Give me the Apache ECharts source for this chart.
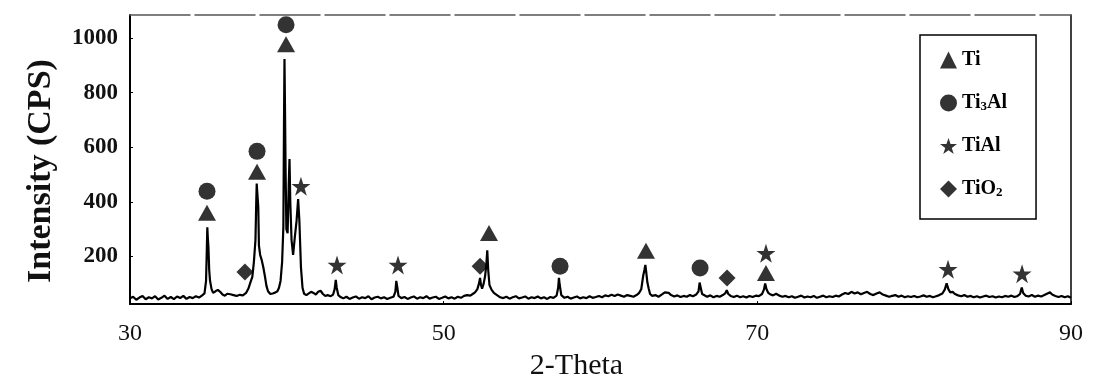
<!DOCTYPE html>
<html>
<head>
<meta charset="utf-8">
<script src="https://cdn.jsdelivr.net/npm/echarts@6/dist/echarts.min.js"></script>
<style>
  html, body { margin: 0; padding: 0; background: #fff; }
  #chart { width: 1097px; height: 386px; }
</style>
</head>
<body>
<div id="chart"></div>
<script>
// ---- Data ----
const twoTheta = [
  30.0,30.2,30.4,30.6,30.8,31.0,31.2,31.4,31.6,31.8,32.0,32.2,32.4,32.6,32.8,33.0,33.2,33.4,33.6,33.8,34.0,34.2,34.4,34.6,
  34.75,34.85,34.9,34.93,34.96,35.0,35.05,35.1,35.2,35.3,35.45,35.6,35.75,35.9,36.05,36.2,36.4,36.6,36.8,37.0,37.2,37.4,
  37.55,37.7,37.8,37.9,38.0,38.05,38.08,38.12,38.18,38.22,38.3,38.4,38.5,38.6,38.7,38.8,38.95,39.1,39.25,39.4,39.5,39.6,
  39.7,39.78,39.82,39.85,39.88,39.92,39.97,40.05,40.12,40.17,40.22,40.3,40.4,40.5,40.62,40.72,40.8,40.9,41.0,41.1,41.25,
  41.4,41.55,41.7,41.85,42.0,42.15,42.3,42.45,42.6,42.8,42.95,43.05,43.12,43.18,43.28,43.45,43.6,43.8,44.0,44.2,44.4,
  44.6,44.8,45.0,45.2,45.4,45.6,45.8,46.0,46.2,46.4,46.6,46.8,46.92,46.98,47.04,47.12,47.3,47.5,47.7,47.9,48.1,48.3,
  48.5,48.7,48.9,49.1,49.3,49.5,49.7,49.9,50.1,50.3,50.5,50.7,50.9,51.1,51.3,51.5,51.7,51.85,52.0,52.15,52.25,52.32,
  52.38,52.45,52.55,52.64,52.72,52.78,52.84,52.92,53.05,53.2,53.4,53.6,53.8,54.0,54.2,54.4,54.6,54.8,55.0,55.2,55.4,
  55.6,55.8,56.0,56.2,56.4,56.6,56.8,57.0,57.2,57.3,57.35,57.4,57.5,57.7,57.9,58.1,58.3,58.5,58.7,58.9,59.1,59.3,59.5,
  59.7,59.9,60.1,60.3,60.5,60.7,60.9,61.1,61.3,61.5,61.7,61.9,62.1,62.3,62.45,62.6,62.72,62.8,62.86,62.92,62.99,63.08,
  63.16,63.3,63.5,63.7,63.9,64.1,64.22,64.35,64.5,64.7,64.9,65.1,65.3,65.5,65.7,65.9,66.1,66.25,66.32,66.38,66.48,66.6,
  66.8,67.0,67.2,67.4,67.6,67.8,67.95,68.05,68.15,68.3,68.5,68.7,68.9,69.1,69.3,69.5,69.7,69.9,70.1,70.3,70.42,70.5,
  70.58,70.7,70.85,71.0,71.2,71.4,71.6,71.8,72.0,72.2,72.4,72.6,72.8,73.0,73.2,73.4,73.6,73.8,74.0,74.2,74.4,74.6,74.8,
  75.0,75.2,75.4,75.6,75.8,76.0,76.2,76.4,76.6,76.8,77.0,77.2,77.4,77.6,77.8,78.0,78.2,78.4,78.6,78.8,79.0,79.2,79.4,
  79.6,79.8,80.0,80.2,80.4,80.6,80.8,81.0,81.2,81.4,81.6,81.8,81.95,82.07,82.18,82.3,82.45,82.6,82.8,83.0,83.2,83.4,
  83.6,83.8,84.0,84.2,84.4,84.6,84.8,85.0,85.2,85.4,85.6,85.8,86.0,86.2,86.4,86.6,86.75,86.86,86.95,87.1,87.3,87.5,
  87.7,87.9,88.1,88.3,88.5,88.66,88.8,89.0,89.2,89.4,89.6,89.8,90.0
];
const intensity = [
  46,52,41,49,55,43,50,46,54,42,48,56,44,51,43,53,47,55,44,51,47,54,49,57,
  64,110,230,307,270,235,150,112,80,66,72,77,70,60,56,63,61,58,55,59,57,66,
  82,108,125,180,260,400,467,430,380,240,205,186,160,128,92,72,62,64,67,72,85,110,
  180,310,700,924,760,520,300,285,460,557,400,260,205,265,330,410,330,160,85,63,58,
  64,70,66,60,70,74,62,55,58,54,60,80,114,85,58,50,46,52,44,49,53,
  45,50,47,54,43,49,52,46,50,44,48,52,70,110,88,55,47,51,44,49,53,45,
  50,47,54,45,49,52,44,48,53,46,50,45,52,48,55,58,56,62,68,80,100,121,
  95,82,100,127,170,222,150,95,78,66,58,50,47,52,45,50,54,46,49,53,45,
  50,47,53,46,50,44,51,48,56,85,121,95,58,48,52,45,49,53,46,50,47,54,48,
  51,55,50,57,54,59,55,60,56,52,58,55,52,58,65,80,128,150,169,140,104,80,
  62,55,58,52,60,68,74,66,58,53,57,51,55,52,58,54,60,72,104,88,62,56,
  52,57,50,55,52,58,64,76,62,55,51,56,50,54,49,55,51,56,54,62,78,101,
  80,66,60,57,63,56,52,55,50,54,48,52,56,49,53,50,55,48,52,56,50,54,51,
  56,53,60,66,62,70,64,68,61,66,70,62,58,64,68,60,56,52,55,58,52,56,50,
  54,51,55,50,53,57,52,55,50,54,58,64,78,101,80,68,70,62,57,54,58,52,
  55,50,54,49,53,56,51,54,49,53,50,55,52,56,51,55,62,86,66,56,53,58,
  52,56,53,58,64,68,60,55,51,55,50,54,48
];

// Phase markers [2-theta, intensity]
const tiMarks   = [[34.91, 360], [38.10, 510], [39.95, 978], [52.89, 286], [62.90, 221], [70.55, 139]];
const ti3alMarks = [[34.91, 439], [38.10, 585], [39.95, 1049], [57.42, 164], [66.35, 157]];
const tialMarks = [[40.90, 457], [43.20, 168], [47.09, 168], [70.55, 211], [82.16, 153], [86.88, 136]];
const tio2Marks = [[37.33, 143], [52.32, 164], [68.07, 121]];

const xTicks = [30, 50, 70, 90];
const yTicks = [200, 400, 600, 800, 1000];
const phaseNames = ['Ti', 'Ti3Al', 'TiAl', 'TiO2'];

// ---- Chart ----
const SERIF = '"Liberation Serif", "DejaVu Serif", serif';
const STAR = 'path://M50,0 L61.8,35.5 L99,35.5 L68.8,57.5 L80.3,93 L50,71 L19.7,93 L31.2,57.5 L1,35.5 L38.2,35.5 Z';

const chart = echarts.init(document.getElementById('chart'), null, { renderer: 'canvas' });

const mainData = twoTheta.map((x, i) => [x, intensity[i]]);

function markerSeries(name, data, symbol, size) {
  return {
    name: name,
    type: 'scatter',
    data: data,
    symbol: symbol,
    symbolSize: size,
    itemStyle: { color: '#000' },
    z: 5,
    silent: true
  };
}

chart.setOption({
  animation: false,
  backgroundColor: '#fff',
  grid: { left: 130, right: 26, top: 15, bottom: 74 },
  legend: {
    data: phaseNames,
    orient: 'vertical',
    left: 920,
    top: 35,
    padding: [15, 29, 20, 20],
    itemGap: 23,
    itemWidth: 17,
    itemHeight: 17,
    borderColor: '#000',
    borderWidth: 1.5,
    selectedMode: false,
    formatter: function (name) {
      if (name === 'Ti3Al') return '{b|Ti}{s|3}{b|Al}';
      if (name === 'TiO2') return '{b|TiO}{s|2}';
      return '{b|' + name + '}';
    },
    textStyle: {
      color: '#000',
      fontFamily: SERIF,
      fontWeight: 'bold',
      fontSize: 20,
      rich: {
        b: { fontFamily: SERIF, fontWeight: 'bold', fontSize: 20, lineHeight: 20, color: '#000' },
        s: { fontFamily: SERIF, fontWeight: 'bold', fontSize: 13, lineHeight: 14, padding: [7, 0, 0, 0], color: '#000' }
      }
    }
  },
  xAxis: [{
    type: 'value',
    min: 30,
    max: 90,
    interval: 20,
    name: '2-Theta',
    nameLocation: 'middle',
    nameGap: 39,
    nameTextStyle: { fontFamily: SERIF, fontSize: 30, color: '#111', padding: [0, 48, 0, 0] },
    axisLine: { show: true, lineStyle: { color: '#000', width: 2 } },
    axisTick: { show: true, inside: true, length: 3, lineStyle: { color: '#000' } },
    axisLabel: {
      margin: 18,
      fontFamily: SERIF,
      fontSize: 24,
      color: '#111',
      customValues: xTicks
    },
    splitLine: { show: false }
  }, {
    type: 'value',
    position: 'top',
    min: 30,
    max: 90,
    axisLine: { show: true, lineStyle: { color: '#555', width: 1.5, type: [60, 5] } },
    axisTick: { show: false },
    axisLabel: { show: false },
    splitLine: { show: false }
  }],
  yAxis: [{
    type: 'value',
    min: 25,
    max: 1085,
    name: 'Intensity (CPS)',
    nameLocation: 'middle',
    nameGap: 72,
    nameRotate: 90,
    nameTextStyle: { fontFamily: SERIF, fontWeight: 'bold', fontSize: 34, color: '#111', padding: [0, 23, 0, 0] },
    axisLine: { show: true, lineStyle: { color: '#000', width: 2 } },
    axisTick: { show: true, inside: true, length: 3, customValues: yTicks, lineStyle: { color: '#000' } },
    axisLabel: {
      margin: 12,
      fontFamily: SERIF,
      fontWeight: 'bold',
      fontSize: 23,
      color: '#111',
      customValues: yTicks,
      formatter: function (v) { return String(v); }
    },
    splitLine: { show: false }
  }, {
    type: 'value',
    position: 'right',
    min: 25,
    max: 1085,
    axisLine: { show: true, lineStyle: { color: '#000', width: 1.5 } },
    axisTick: { show: false },
    axisLabel: { show: false },
    splitLine: { show: false }
  }],
  series: [
    {
      name: 'pattern',
      type: 'line',
      data: mainData,
      showSymbol: false,
      symbol: 'none',
      lineStyle: { color: '#000', width: 2.2 },
      z: 3,
      silent: true
    },
    markerSeries('Ti', tiMarks, 'triangle', [18, 16]),
    markerSeries('Ti3Al', ti3alMarks, 'circle', 17),
    markerSeries('TiAl', tialMarks, STAR, 19),
    markerSeries('TiO2', tio2Marks, 'diamond', 17)
  ]
});
</script>
</body>
</html>
